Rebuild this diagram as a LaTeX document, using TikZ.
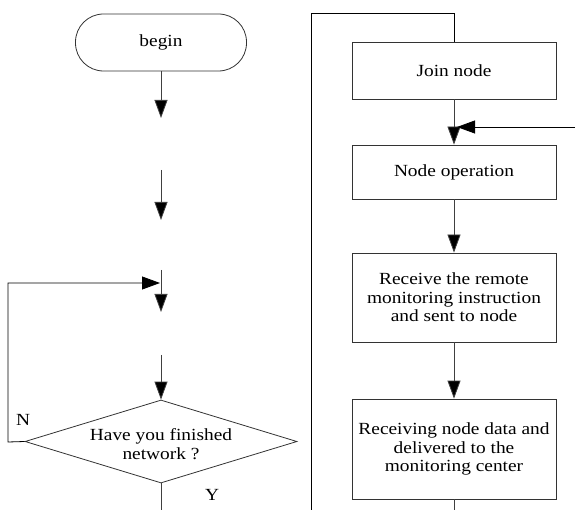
\documentclass[tikz,border=0pt]{standalone}
\usepackage{fontspec}
\setmainfont{Liberation Serif}[FakeStretch=1.14]
\usetikzlibrary{arrows.meta,shapes.geometric}
\begin{document}
\begin{tikzpicture}[x=1pt,y=-1pt,
  every node/.style={font=\fontsize{17}{18.5}\selectfont},
  box/.style={draw=black!80,line width=0.8pt,minimum width=204pt,inner sep=0pt,align=center},
  conn/.style={draw=black!75,line width=0.8pt},
  arr/.style={conn,-{Triangle[length=18pt,width=13pt,fill=black]}},
  lbl/.style={inner sep=0pt,align=center}]
\useasboundingbox (0,0) rectangle (578,510);
% left column
\node[draw=black!80,line width=0.8pt,rounded corners=28pt,minimum width=171pt,minimum height=57pt,inner sep=0pt] (begin) at (161,42.5) {begin};
\node[diamond,draw=black!80,line width=0.8pt,minimum width=272pt,minimum height=83pt,inner sep=0pt] (dec) at (161,441.5) {};
\node[lbl] (dectext) at (161,444) {Have you finished\\network ?};
\coordinate (a1) at (161,118);
\coordinate (a2s) at (161,170);
\coordinate (a2e) at (161,220);
\coordinate (a3s) at (161,270);
\coordinate (a3e) at (161,312);
\coordinate (a4s) at (161,355);
\coordinate (lp) at (8,442);
\coordinate (lpe) at (160,283);
\coordinate (decend) at (161,510);
\node[lbl] (nlab) at (23,420) {N};
\node[lbl] (ylab) at (212,495) {Y};
\draw[arr] (begin.south) -- (a1);
\draw[arr] (a2s) -- (a2e);
\draw[arr] (a3s) -- (a3e);
\draw[arr] (a4s) -- (dec.north);
\draw[arr,draw=black] (dec.west) -- (lp) |- (lpe);
\draw[conn] (dec.south) -- (decend);
% right column
\node[box,minimum height=57pt] (join) at (454,70.5) {Join node};
\node[box,minimum height=54pt] (op) at (454,172) {Node operation};
\node[box,minimum height=89pt] (recv) at (454,297.5) {Receive the remote\\monitoring instruction\\and sent to node};
\node[box,minimum height=100pt] (deliv) at (454,449) {Receiving node data and\\delivered to the\\monitoring center};
\coordinate (tl) at (311,13);
\coordinate (bl) at (311,510);
\coordinate (tr) at (454,13);
\coordinate (rin) at (575,127);
\coordinate (rine) at (457,127);
\coordinate (rend) at (454,510);
\draw[conn,draw=black] (bl) -- (tl) -- (tr) -- (join.north);
\draw[arr] (join.south) -- (op.north);
\draw[arr,draw=black] (rin) -- (rine);
\draw[arr] (op.south) -- (recv.north);
\draw[arr] (recv.south) -- (deliv.north);
\draw[conn] (deliv.south) -- (rend);
\end{tikzpicture}
\end{document}
